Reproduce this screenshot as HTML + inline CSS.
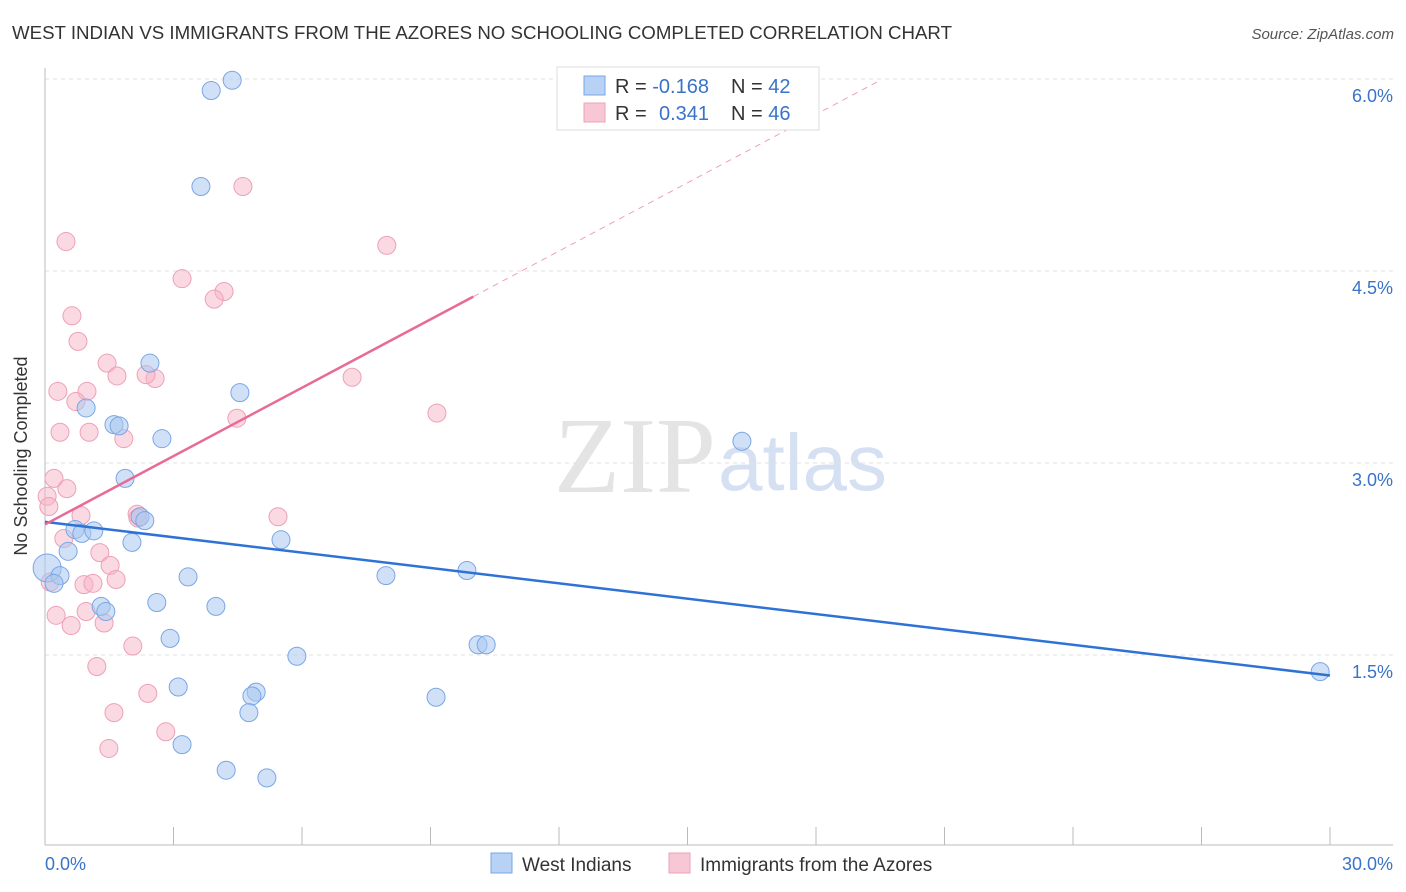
<!DOCTYPE html>
<html><head><meta charset="utf-8"><style>
body{margin:0;background:#fff;font-family:"Liberation Sans",sans-serif;}
svg{display:block}
</style></head><body>
<svg id="chart" width="1406" height="892" xmlns="http://www.w3.org/2000/svg">
<text x="12" y="39" font-size="18" fill="#333" textLength="940" lengthAdjust="spacingAndGlyphs">WEST INDIAN VS IMMIGRANTS FROM THE AZORES NO SCHOOLING COMPLETED CORRELATION CHART</text>
<text x="1394" y="39" font-size="15" font-style="italic" fill="#555" text-anchor="end">Source: ZipAtlas.com</text>
<text x="716" y="492" font-size="108" font-family="Liberation Serif,serif" fill="#e4e4e4" text-anchor="end">ZIP</text>
<text x="718" y="490" font-size="80" fill="#d5e1f3">atlas</text>
<g id="grid"></g><g id="axes"></g><g id="pts"></g><g id="lines"></g>
<text x="27" y="456" font-size="18" fill="#333" text-anchor="middle" transform="rotate(-90 27 456)">No Schooling Completed</text>
<text x="45" y="870" font-size="18" fill="#3a73c8">0.0%</text>
<text x="1393" y="870" font-size="18" fill="#3a73c8" text-anchor="end">30.0%</text>
<g>
<rect x="557" y="67" width="262" height="63" fill="#fff" stroke="#ddd"/>
<rect x="584" y="76" width="21" height="19" fill="#b8d2f5" stroke="#7aa6e6"/>
<rect x="584" y="103" width="21" height="19" fill="#f8c7d5" stroke="#eea0b6"/>
<text x="615" y="93" font-size="20" fill="#333">R = <tspan fill="#3a73c8">-0.168</tspan></text>
<text x="731" y="93" font-size="20" fill="#333">N = <tspan fill="#3a73c8">42</tspan></text>
<text x="615" y="120" font-size="20" fill="#333">R = <tspan fill="#3a73c8" x="659">0.341</tspan></text>
<text x="731" y="120" font-size="20" fill="#333">N = <tspan fill="#3a73c8">46</tspan></text>
</g>
<g>
<rect x="491" y="853" width="21" height="20" fill="#b8d2f5" stroke="#7aa6e6"/>
<text x="522" y="871" font-size="19" fill="#333">West Indians</text>
<rect x="669" y="853" width="21" height="20" fill="#f8c7d5" stroke="#eea0b6"/>
<text x="700" y="871" font-size="19" fill="#333">Immigrants from the Azores</text>
</g>
</svg>
<script>
const yTicks=[1.5,3.0,4.5,6.0];
const xTicks=[0,3,6,9,12,15,18,21,24,27,30];
const blueX=[3.88,4.37,3.64,2.45,4.55,0.96,1.61,1.73,2.73,1.87,16.27,2.22,2.33,0.70,0.86,1.14,2.03,5.51,0.54,0.05,0.35,0.21,3.34,7.96,9.85,1.31,1.42,2.61,3.99,2.92,5.88,10.11,10.30,3.11,4.93,4.83,4.76,9.13,3.20,4.23,5.18,29.77];
const blueY=[5.91,5.99,5.16,3.78,3.55,3.43,3.30,3.29,3.19,2.88,3.17,2.58,2.55,2.48,2.45,2.47,2.38,2.40,2.31,2.18,2.12,2.06,2.11,2.12,2.16,1.88,1.84,1.91,1.88,1.63,1.49,1.58,1.58,1.25,1.21,1.18,1.05,1.17,0.80,0.60,0.54,1.37];
const pinkX=[0.49,4.62,7.98,3.20,4.18,3.95,0.63,0.77,1.45,1.68,2.57,2.36,7.17,0.30,0.98,0.72,4.48,9.15,0.35,1.03,1.84,0.21,0.51,0.05,0.09,0.84,2.15,2.17,5.44,0.44,1.28,1.52,0.91,1.12,1.66,0.26,0.96,0.61,1.38,2.05,1.21,2.40,1.61,2.82,1.49,0.12];
const pinkY=[4.73,5.16,4.70,4.44,4.34,4.28,4.15,3.95,3.78,3.68,3.66,3.69,3.67,3.56,3.56,3.48,3.35,3.39,3.24,3.24,3.19,2.88,2.80,2.74,2.66,2.59,2.60,2.57,2.58,2.41,2.30,2.20,2.05,2.06,2.09,1.81,1.84,1.73,1.75,1.57,1.41,1.20,1.05,0.90,0.77,2.07];
const blueTrend=[[0,2.54],[30,1.34]];
const pinkTrend=[[0,2.52],[10,4.30]];
const pinkDash=[[10,4.30],[19.5,5.99]];
const X=v=>45+v/30*1285, Y=v=>847-v*128;
const NS='http://www.w3.org/2000/svg';
function mk(p,t,a){const e=document.createElementNS(NS,t);for(const k in a)e.setAttribute(k,a[k]);p.appendChild(e);return e;}
const grid=document.getElementById('grid'),axes=document.getElementById('axes'),pts=document.getElementById('pts'),lines=document.getElementById('lines');
yTicks.forEach(t=>{const l=mk(grid,'line',{x1:45,x2:1393,y1:Y(t),y2:Y(t),stroke:'#e2e2e2','stroke-dasharray':'4 4'});


const tx=mk(grid,'text',{x:1393,y:Y(t)+23,'font-size':18,fill:'#3a73c8','text-anchor':'end'});tx.textContent=t.toFixed(1)+'%';

});
const ax=mk(axes,'line',{x1:45,x2:1393,y1:845,y2:845,stroke:'#bbb'});


const ay=mk(axes,'line',{x1:45,x2:45,y1:68,y2:845,stroke:'#bbb'});


xTicks.forEach(t=>{const l=mk(axes,'line',{x1:X(t),x2:X(t),y1:827,y2:845,stroke:'#bbb'});

});
function dots(xs,ys,fill,stroke,name){xs.forEach((x,i)=>{const r=(name==='west-indian-point'&&i===19)?14:9;const c=mk(pts,'circle',{cx:X(x),cy:Y(ys[i]),r:r,fill:fill,stroke:stroke,'stroke-width':1});

});}
dots(pinkX,pinkY,'rgba(246,180,200,0.5)','#eea0b6','azores-point');
dots(blueX,blueY,'rgba(170,200,240,0.55)','#7aa6e6','west-indian-point');
function ln(d,stroke,w,dash,name){const a={x1:X(d[0][0]),y1:Y(d[0][1]),x2:X(d[1][0]),y2:Y(d[1][1]),stroke:stroke,'stroke-width':w};if(dash)a['stroke-dasharray']=dash;const l=mk(lines,'line',a);

}
ln(blueTrend,'#2f72d6',2.5,null,'west-indian-trendline');
ln(pinkTrend,'#e86a96',2.5,null,'azores-trendline');
ln(pinkDash,'#eea0b6',1,'6 5','azores-trendline-extension');
</script>
</body></html>
